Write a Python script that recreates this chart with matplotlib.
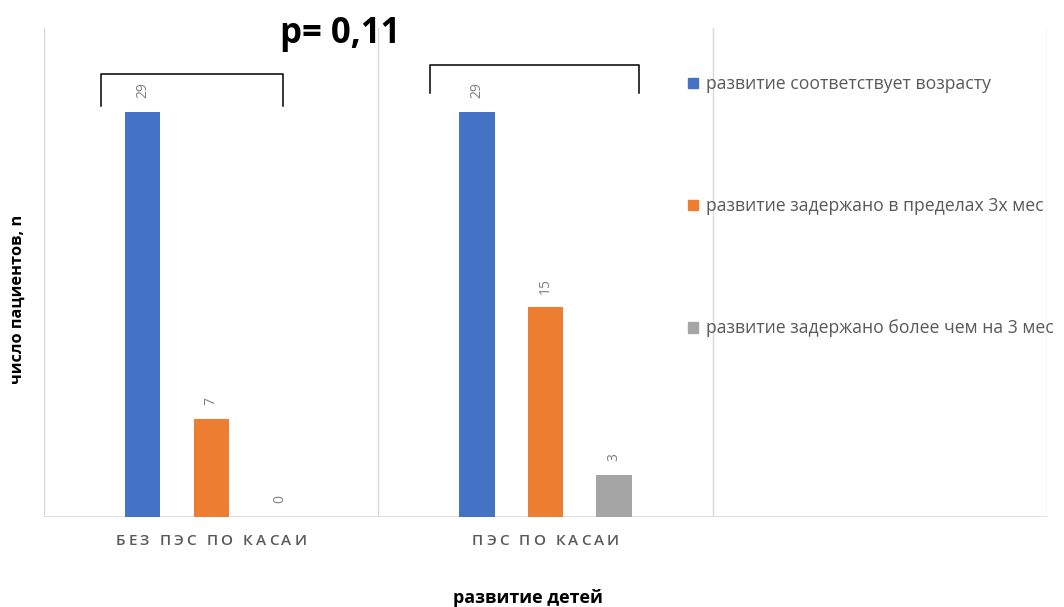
import matplotlib.pyplot as plt
from matplotlib.patches import Patch

# число пациентов по группам
categories = ['БЕЗ ПЭС ПО КАСАИ', 'ПЭС ПО КАСАИ', '']
series_names = ['развитие соответствует возрасту',
                'развитие задержано в пределах 3х мес',
                'развитие задержано более чем на 3 мес']
normal = [29, 29]
delay_3m = [7, 15]
delay_more = [0, 3]
colors = ['#4472C4', '#ED7D31', '#A5A5A5']
p_text = 'p= 0,11'

plt.rcParams['font.family'] = ['Open Sans', 'DejaVu Sans']

fig = plt.figure(figsize=(10.64, 6.07), dpi=100)
ax = fig.add_axes([44 / 1064, 90 / 607, 1003 / 1064, 489 / 607])

offset = 0.205
width = 0.105
xs = range(len(normal))
for i, (vals, c) in enumerate(zip([normal, delay_3m, delay_more], colors)):
    pos = [x + (i - 1) * offset for x in xs]
    bars = ax.bar(pos, vals, width=width, color=c, zorder=3)
    for b, v in zip(bars, vals):
        ax.annotate(str(v), (b.get_x() + b.get_width() / 2, v),
                    xytext=(0, 10), textcoords='offset points',
                    rotation=90, ha='center', va='bottom',
                    fontsize=10, color='#7f7f7f')

ax.set_xlim(-0.5, len(categories) - 0.5)
ax.set_ylim(0, 35)
for x in [-0.5, 0.5, 1.5, 2.5]:
    ax.axvline(x, color='#d9d9d9', lw=1, zorder=1)
ax.axhline(0, color='#d9d9d9', lw=1.2, zorder=2)
for s in ax.spines.values():
    s.set_visible(False)
ax.set_yticks([])
ax.set_xticks([])


def spaced_label(xc, y_px, s, size=11, track=3.0, color='#595959'):
    # подпись категории с разрядкой: каждая буква отдельно
    r = fig.canvas.get_renderer()
    widths = []
    for ch in s:
        if ch == ' ':
            widths.append(size * 0.4)
            continue
        t = fig.text(0, 0, ch, fontsize=size, fontweight='semibold')
        widths.append(t.get_window_extent(r).width)
        t.remove()
    total = sum(widths) + track * (len(s) - 1)
    x0 = ax.transData.transform((xc, 0))[0] - total / 2
    for ch, w in zip(s, widths):
        if ch != ' ':
            fig.text(x0 / 1064, 1 - y_px / 607, ch, fontsize=size,
                     fontweight='semibold', color=color,
                     ha='left', va='center')
        x0 += w + track


for i, cat in enumerate(categories):
    if cat:
        spaced_label(i, 541, cat)

# скобки над группами
ax.plot([-0.329, -0.329, 0.215, 0.215], [29.4, 31.7, 31.7, 29.4],
        color='black', lw=1.1, clip_on=False)
ax.plot([0.654, 0.654, 1.279, 1.279], [30.35, 32.35, 32.35, 30.35],
        color='black', lw=1.1, clip_on=False)
fig.text(340 / 1064, 1 - 34 / 607, p_text, fontsize=25, fontweight='bold',
         ha='center', va='center')

fig.text(18 / 1064, 1 - 299 / 607, 'число пациентов, n', rotation=90,
         fontsize=11.8, fontweight='bold', ha='center', va='center')
fig.text(528 / 1064, 1 - 598 / 607, 'развитие детей',
         fontsize=13, fontweight='bold', ha='center', va='center')

handles = [Patch(color=c) for c in colors]
leg = fig.legend(handles, series_names, loc='upper left',
                 bbox_to_anchor=(676 / 1064, 1 - 63 / 607),
                 frameon=False, fontsize=12.7, labelcolor='#595959',
                 handlelength=0.55, handleheight=0.55, handletextpad=0.45,
                 labelspacing=5.9, borderpad=0.2)

fig.savefig('out.png', dpi=100)
